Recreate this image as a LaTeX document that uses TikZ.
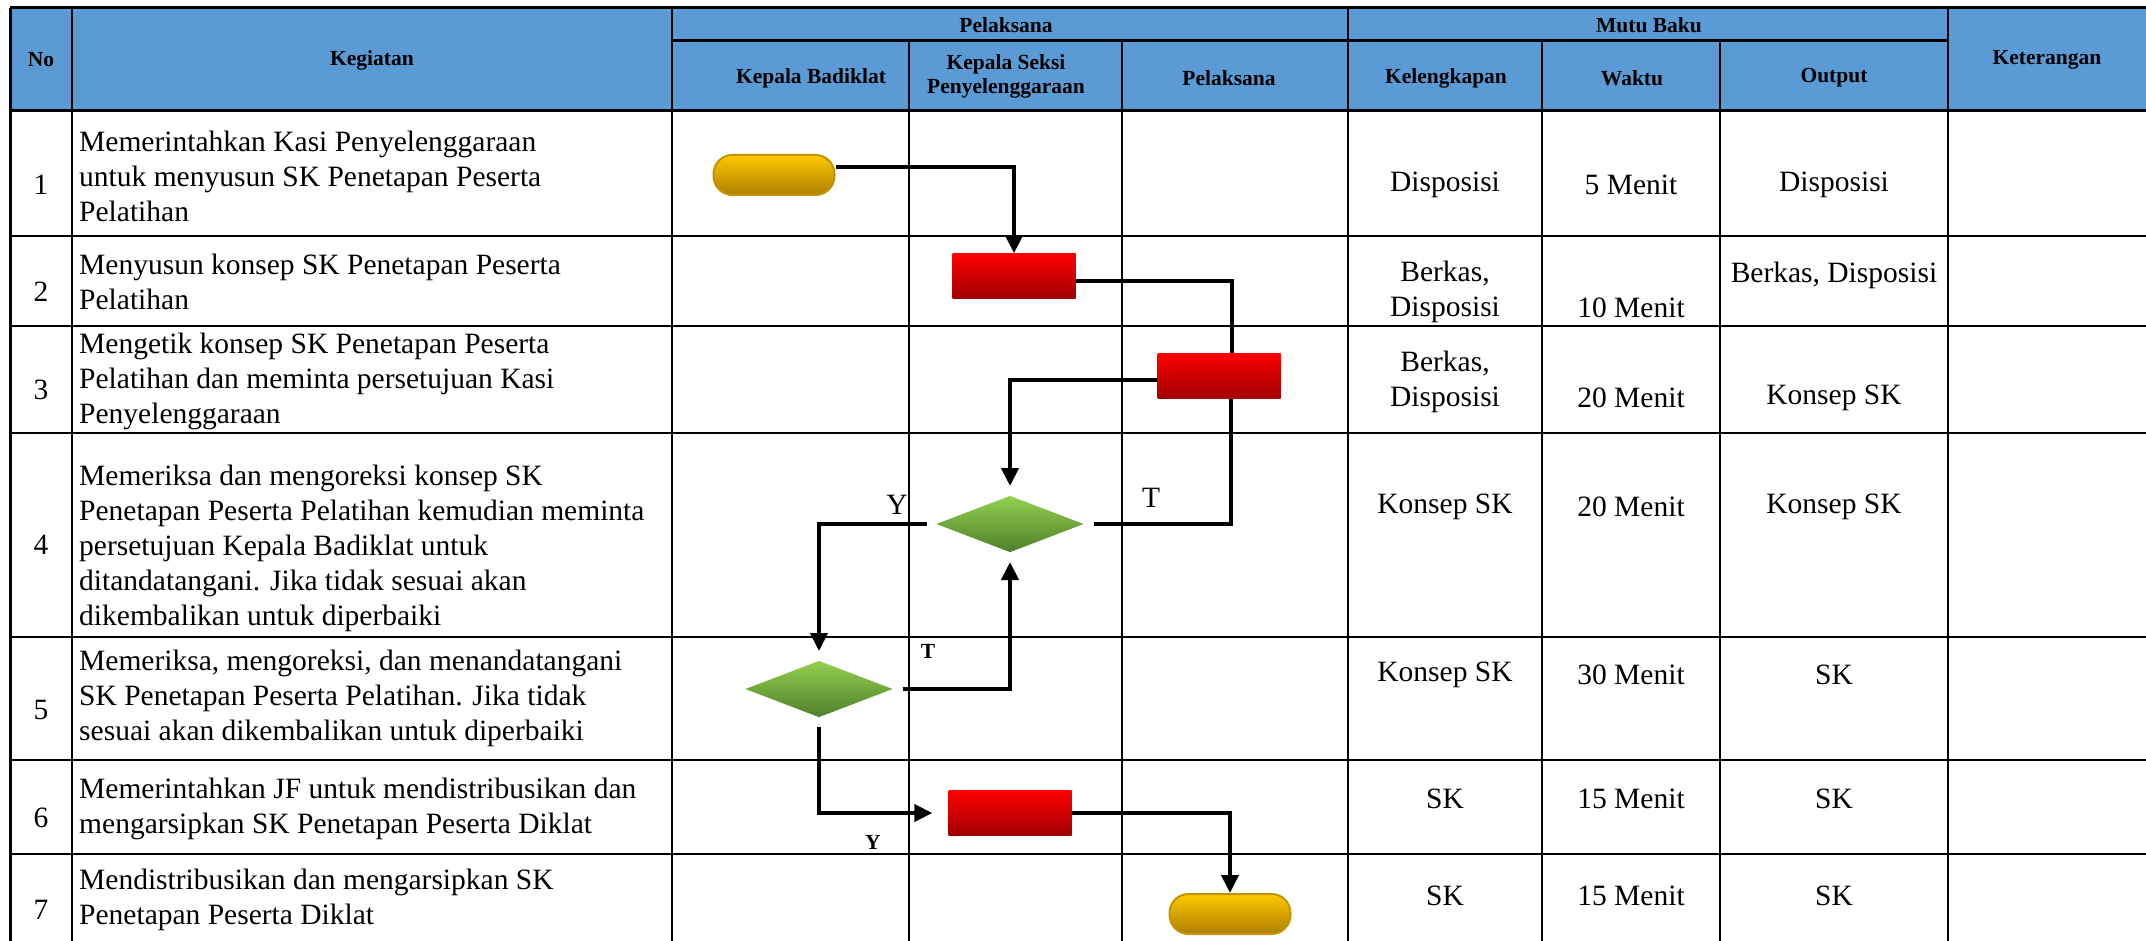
\documentclass[tikz,border=0pt]{standalone}
\usepackage{fontspec}
\setmainfont{Liberation Serif}
\usetikzlibrary{arrows.meta,shapes.geometric}

\definecolor{headblue}{HTML}{5B9BD5}
\definecolor{termtop}{HTML}{FFC800}
\definecolor{termbot}{HTML}{AD7F00}
\definecolor{termline}{HTML}{C39400}
\definecolor{proctop}{HTML}{FF0000}
\definecolor{procbot}{HTML}{A00000}
\definecolor{dectop}{HTML}{92D050}
\definecolor{decbot}{HTML}{4F7F2A}

\begin{document}
\begin{tikzpicture}[x=1pt, y=-1pt,
    body/.style={font=\fontsize{29.5}{35}\selectfont, inner sep=0},
    head/.style={font=\fontsize{21.5}{24}\selectfont\bfseries, inner sep=0, align=center},
    grid/.style={line width=2pt},
    frame/.style={line width=3pt},
    terminal/.style={draw=termline, line width=2pt, rounded corners=19pt,
        minimum width=121pt, minimum height=40pt, top color=termtop, bottom color=termbot},
    process/.style={minimum width=123pt, minimum height=45pt, top color=proctop, bottom color=procbot},
    decision/.style={diamond, inner sep=0, minimum width=153pt, minimum height=62pt,
        outer sep=7pt, top color=dectop, bottom color=decbot},
    link/.style={line width=4pt},
    flow/.style={line width=4pt, -{Triangle[length=18pt,width=17pt]}}]

    \useasboundingbox (0,0) rectangle (2146,941);

    % Header
    \fill[headblue] (10,8) rectangle (2146,111);
    \node[head] (hNo) at (41,60) {No};
    \node[head] (hKeg) at (372,60) {Kegiatan};
    \node[head] (hPel) at (1006,25) {Pelaksana};
    \node[head] (hMutu) at (1649,25) {Mutu Baku};
    \node[head] (hKet) at (2047,60) {Keterangan};
    \node[head] (hKaban) at (811,78) {Kepala Badiklat};
    \node[head] (hKasi) at (1006,76) {Kepala Seksi\\Penyelenggaraan};
    \node[head] (hPlk) at (1229,78) {Pelaksana};
    \node[head] (hKel) at (1446,78) {Kelengkapan};
    \node[head] (hWaktu) at (1632,78) {Waktu};
    \node[head] (hOut) at (1834,78) {Output};

    % Grid
    \foreach \x in {72,672,1348,1948}
        \draw[grid] (\x,8) -- (\x,941);
    \foreach \x in {909,1122,1542,1720}
        \draw[grid] (\x,41) -- (\x,941);
    \foreach \y in {236,326,433,637,760,854}
        \draw[grid] (10,\y) -- (2146,\y);
    \draw[frame] (10,8) -- (10,941);
    \draw[frame] (10,8) -- (2146,8);
    \draw[frame] (672,41) -- (1948,41);
    \draw[frame] (10,111) -- (2146,111);

    % Numbers
    \foreach \n/\y in {1/185,2/292,3/390,4/545,5/710,6/818,7/910}
        \node[body] (no\n) at (41,\y) {\n};

    % Kegiatan
    \node[body, align=left, anchor=west] (keg1) at (79,176)
        {Memerintahkan Kasi Penyelenggaraan\\untuk menyusun SK Penetapan Peserta\\Pelatihan};
    \node[body, align=left, anchor=west] (keg2) at (79,282)
        {Menyusun konsep SK Penetapan Peserta\\Pelatihan};
    \node[body, align=left, anchor=west] (keg3) at (79,381)
        {Mengetik konsep SK Penetapan Peserta\\Pelatihan dan meminta persetujuan Kasi\\Penyelenggaraan};
    \node[body, align=left, anchor=west] (keg4) at (79,548)
        {Memeriksa dan mengoreksi konsep SK\\Penetapan Peserta Pelatihan kemudian meminta\\persetujuan Kepala Badiklat untuk\\ditandatangani. Jika tidak sesuai akan\\dikembalikan untuk diperbaiki};
    \node[body, align=left, anchor=west] (keg5) at (79,698)
        {Memeriksa, mengoreksi, dan menandatangani\\SK Penetapan Peserta Pelatihan. Jika tidak\\sesuai akan dikembalikan untuk diperbaiki};
    \node[body, align=left, anchor=west] (keg6) at (79,809)
        {Memerintahkan JF untuk mendistribusikan dan\\mengarsipkan SK Penetapan Peserta Diklat};
    \node[body, align=left, anchor=west] (keg7) at (79,900)
        {Mendistribusikan dan mengarsipkan SK\\Penetapan Peserta Diklat};

    % Mutu Baku
    \node[body] (kel1) at (1445,185) {Disposisi};
    \node[body] (wak1) at (1631,185) {5 Menit};
    \node[body] (out1) at (1834,185) {Disposisi};
    \node[body, align=center] (kel2) at (1445,292) {Berkas,\\Disposisi};
    \node[body] (wak2) at (1631,308) {10 Menit};
    \node[body] (out2) at (1834,275) {Berkas, Disposisi};
    \node[body, align=center] (kel3) at (1445,382) {Berkas,\\Disposisi};
    \node[body] (wak3) at (1631,398) {20 Menit};
    \node[body] (out3) at (1834,398) {Konsep SK};
    \node[body] (kel4) at (1445,507) {Konsep SK};
    \node[body] (wak4) at (1631,507) {20 Menit};
    \node[body] (out4) at (1834,507) {Konsep SK};
    \node[body] (kel5) at (1445,675) {Konsep SK};
    \node[body] (wak5) at (1631,675) {30 Menit};
    \node[body] (out5) at (1834,675) {SK};
    \node[body] (kel6) at (1445,799) {SK};
    \node[body] (wak6) at (1631,799) {15 Menit};
    \node[body] (out6) at (1834,799) {SK};
    \node[body] (kel7) at (1445,896) {SK};
    \node[body] (wak7) at (1631,896) {15 Menit};
    \node[body] (out7) at (1834,896) {SK};

    % Flow shapes
    \node[terminal] (start) at (774,175) {};
    \node[process] (susun) at (1014,276) {};
    \node[process] (ketik) at (1219,376) {};
    \node[decision] (cekKasi) at (1010,524) {};
    \node[decision] (cekKaban) at (819,689) {};
    \node[process] (arsip) at (1010,813) {};
    \node[terminal] (finish) at (1230,914) {};

    % Connectors
    \draw[flow] ([yshift=8pt]start.east) -| (susun.north);
    \draw[link] ([yshift=-5pt]susun.east) -| ([xshift=13pt]ketik.north);
    \draw[flow] ([yshift=-4pt]ketik.west) -| (cekKasi.north);
    \draw[link] ([xshift=12pt]ketik.south) |- (cekKasi.east);
    \draw[flow] (cekKasi.west) -| (cekKaban.north);
    \draw[flow] (cekKaban.east) -| (cekKasi.south);
    \draw[flow, shorten >=16pt] (cekKaban.south) |- (arsip.west);
    \draw[flow] (arsip.east) -| (finish.north);

    % Labels
    \node[body] (yaKasi) at (897,505) {Y};
    \node[body] (tidakKasi) at (1151,498) {T};
    \node[head] (tidakKaban) at (928,651) {T};
    \node[head] (yaKaban) at (873,842) {Y};

\end{tikzpicture}
\end{document}
